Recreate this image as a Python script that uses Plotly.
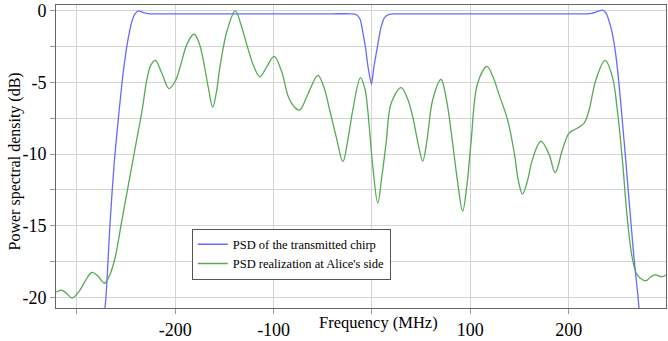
import plotly.graph_objects as go

# Transmitted chirp PSD (blue)
chirp_f = [-275, -270.5, -266.5, -262, -257, -253.5, -250, -247, -244, -241, -237, -233, -228, -222,
           -200, -160, -120, -80, -40, -22, -16, -12, -9, -6.7, -4, -0.5, 2, 5.8, 9, 13, 18,
           24, 40, 80, 120, 160, 200, 218, 223, 227, 231, 234.5, 238, 243, 247, 250.8, 254.5, 258, 262, 266.5,
           270.6, 274]
chirp_db = [-23, -20, -15, -10.5, -6.9, -4.6, -2.8, -1.6, -0.7, -0.2, 0.0, -0.1, -0.18, -0.2,
            -0.2, -0.2, -0.2, -0.2, -0.2, -0.2, -0.25, -0.6, -1.6, -2.5, -3.9, -5.12, -3.9, -2.4, -1.2, -0.45, -0.22,
            -0.2, -0.2, -0.2, -0.2, -0.2, -0.2, -0.2, -0.17, -0.1, 0.0, 0.05, -0.15, -1.17, -2.6, -4.8, -7.6, -10.37,
            -13.7, -17.29, -20.0, -23]

# PSD realization at Alice's side (green)
alice_f = [-321, -316, -311, -305, -298, -291, -285, -279, -272, -267, -261.4, -254.6, -247.9, -241.1,
           -233.7, -229, -225, -220.3, -214, -206.3, -200, -195, -188, -181, -176, -171.5, -166, -162,
           -158, -154.6, -147, -139, -133, -127.5, -120, -114, -107, -99.5, -92, -85, -79, -73.6, -65,
           -55, -49, -43, -36, -29.6, -24.5, -19.5, -11.7, -7, -4.3, 0.8, 5.9, 10, 14.4, 19.5, 29.6, 36,
           41.4, 47, 51.6, 56, 61.7, 70.2, 76, 82, 87, 92.2, 96.5, 100.7, 107.4, 117, 123, 129.4, 137.9,
           144.7, 149, 153.1, 158, 163.2, 171.8, 180, 186.3, 193.7, 200.5, 209, 215.7, 220.8, 227.6,
           237.1, 244.5, 249.5, 254.6, 259.7, 264.8, 269.8, 278.4, 283, 287.8, 295.3, 300]
alice_db = [-19.65, -19.5, -19.7, -20.05, -19.6, -18.8, -18.27, -18.5, -19.02, -18.5, -17.29, -14.75, -12.22, -9.68,
            -6.92, -4.84, -3.8, -3.46, -4.3, -5.42, -4.9, -3.9, -2.3, -1.61, -2.2, -3.45, -5.5, -6.73,
            -5.6, -3.9, -1.3, 0.0, -1.0, -2.3, -3.9, -4.6, -3.9, -3.18, -4.2, -6.0, -6.7, -6.92, -5.8,
            -4.5, -5.3, -6.92, -8.9, -10.53, -9.0, -6.92, -4.66, -5.5, -6.92, -10.83, -13.42, -11.6, -9.22, -6.45, -5.35, -6.1,
            -7.38, -9.3, -10.49, -9.0, -6.22, -4.79, -6.3, -9.22, -11.9, -13.99, -12.2, -9.22, -5.07, -3.87, -4.6, -5.88, -7.61,
            -9.91, -11.9, -12.79, -11.9, -10.37, -9.1, -10.0, -11.3, -9.68, -8.53, -8.18, -7.84, -6.92, -4.84,
            -3.46, -4.61, -6.92, -10.37, -14.52, -17.29, -18.44, -18.86, -18.6, -18.44, -18.56, -18.4]

x_tickvals = [-300, -200, -100, 0, 100, 200]
x_ticktext = ["", "-200", "-100", "", "100", "200"]
y_tickvals = [-20, -17.5, -15, -12.5, -10, -7.5, -5, -2.5, 0]
y_ticktext = ["-20", "", "-15", "", "-10", "", "-5", "", "0"]

SERIF = "Liberation Serif, Times New Roman, serif"

fig = go.Figure()
fig.add_trace(go.Scatter(x=chirp_f, y=chirp_db, mode="lines", name="PSD of the transmitted chirp",
                         line=dict(color="rgb(105,105,255)", width=1.3, shape="spline", smoothing=0.6)))
fig.add_trace(go.Scatter(x=alice_f, y=alice_db, mode="lines", name="PSD realization at Alice's side",
                         line=dict(color="rgb(85,170,85)", width=1.3, shape="spline", smoothing=1.0)))

fig.update_layout(
    width=668, height=341,
    margin=dict(l=56, r=1, t=4, b=31),
    plot_bgcolor="white", paper_bgcolor="white",
    font=dict(family=SERIF, color="black"),
    showlegend=True,
    legend=dict(x=0.2226, y=0.262, xanchor="left", yanchor="top",
                bgcolor="white", bordercolor="#555", borderwidth=1,
                font=dict(family=SERIF, size=12.5, color="black"),
                tracegroupgap=0, itemwidth=30),
)
fig.update_xaxes(range=[-321.3, 299], tickmode="array", tickvals=x_tickvals, ticktext=x_ticktext,
                 showgrid=True, gridcolor="#d4d4d4", gridwidth=1, zeroline=False,
                 showline=True, linecolor="#666", linewidth=1, mirror=True,
                 ticks="outside", ticklen=5, tickcolor="#999",
                 tickfont=dict(family=SERIF, size=18, color="black"))
fig.update_yaxes(range=[-20.75, 0.415], tickmode="array", tickvals=y_tickvals, ticktext=y_ticktext,
                 showgrid=True, gridcolor="#d4d4d4", gridwidth=1, zeroline=False,
                 showline=True, linecolor="#666", linewidth=1, mirror=True,
                 ticks="outside", ticklen=5, tickcolor="#999",
                 tickfont=dict(family=SERIF, size=18, color="black"))

fig.add_annotation(text="Frequency (MHz)", xref="paper", yref="paper", x=0.5286, y=-0.049,
                   xanchor="center", yanchor="middle", showarrow=False,
                   font=dict(family=SERIF, size=16.5, color="black"))
fig.add_annotation(text="Power spectral density (dB)", xref="paper", yref="paper", x=-0.067, y=0.484,
                   xanchor="center", yanchor="middle", showarrow=False, textangle=-90,
                   font=dict(family=SERIF, size=16, color="black"))

fig.write_html("out.html")
